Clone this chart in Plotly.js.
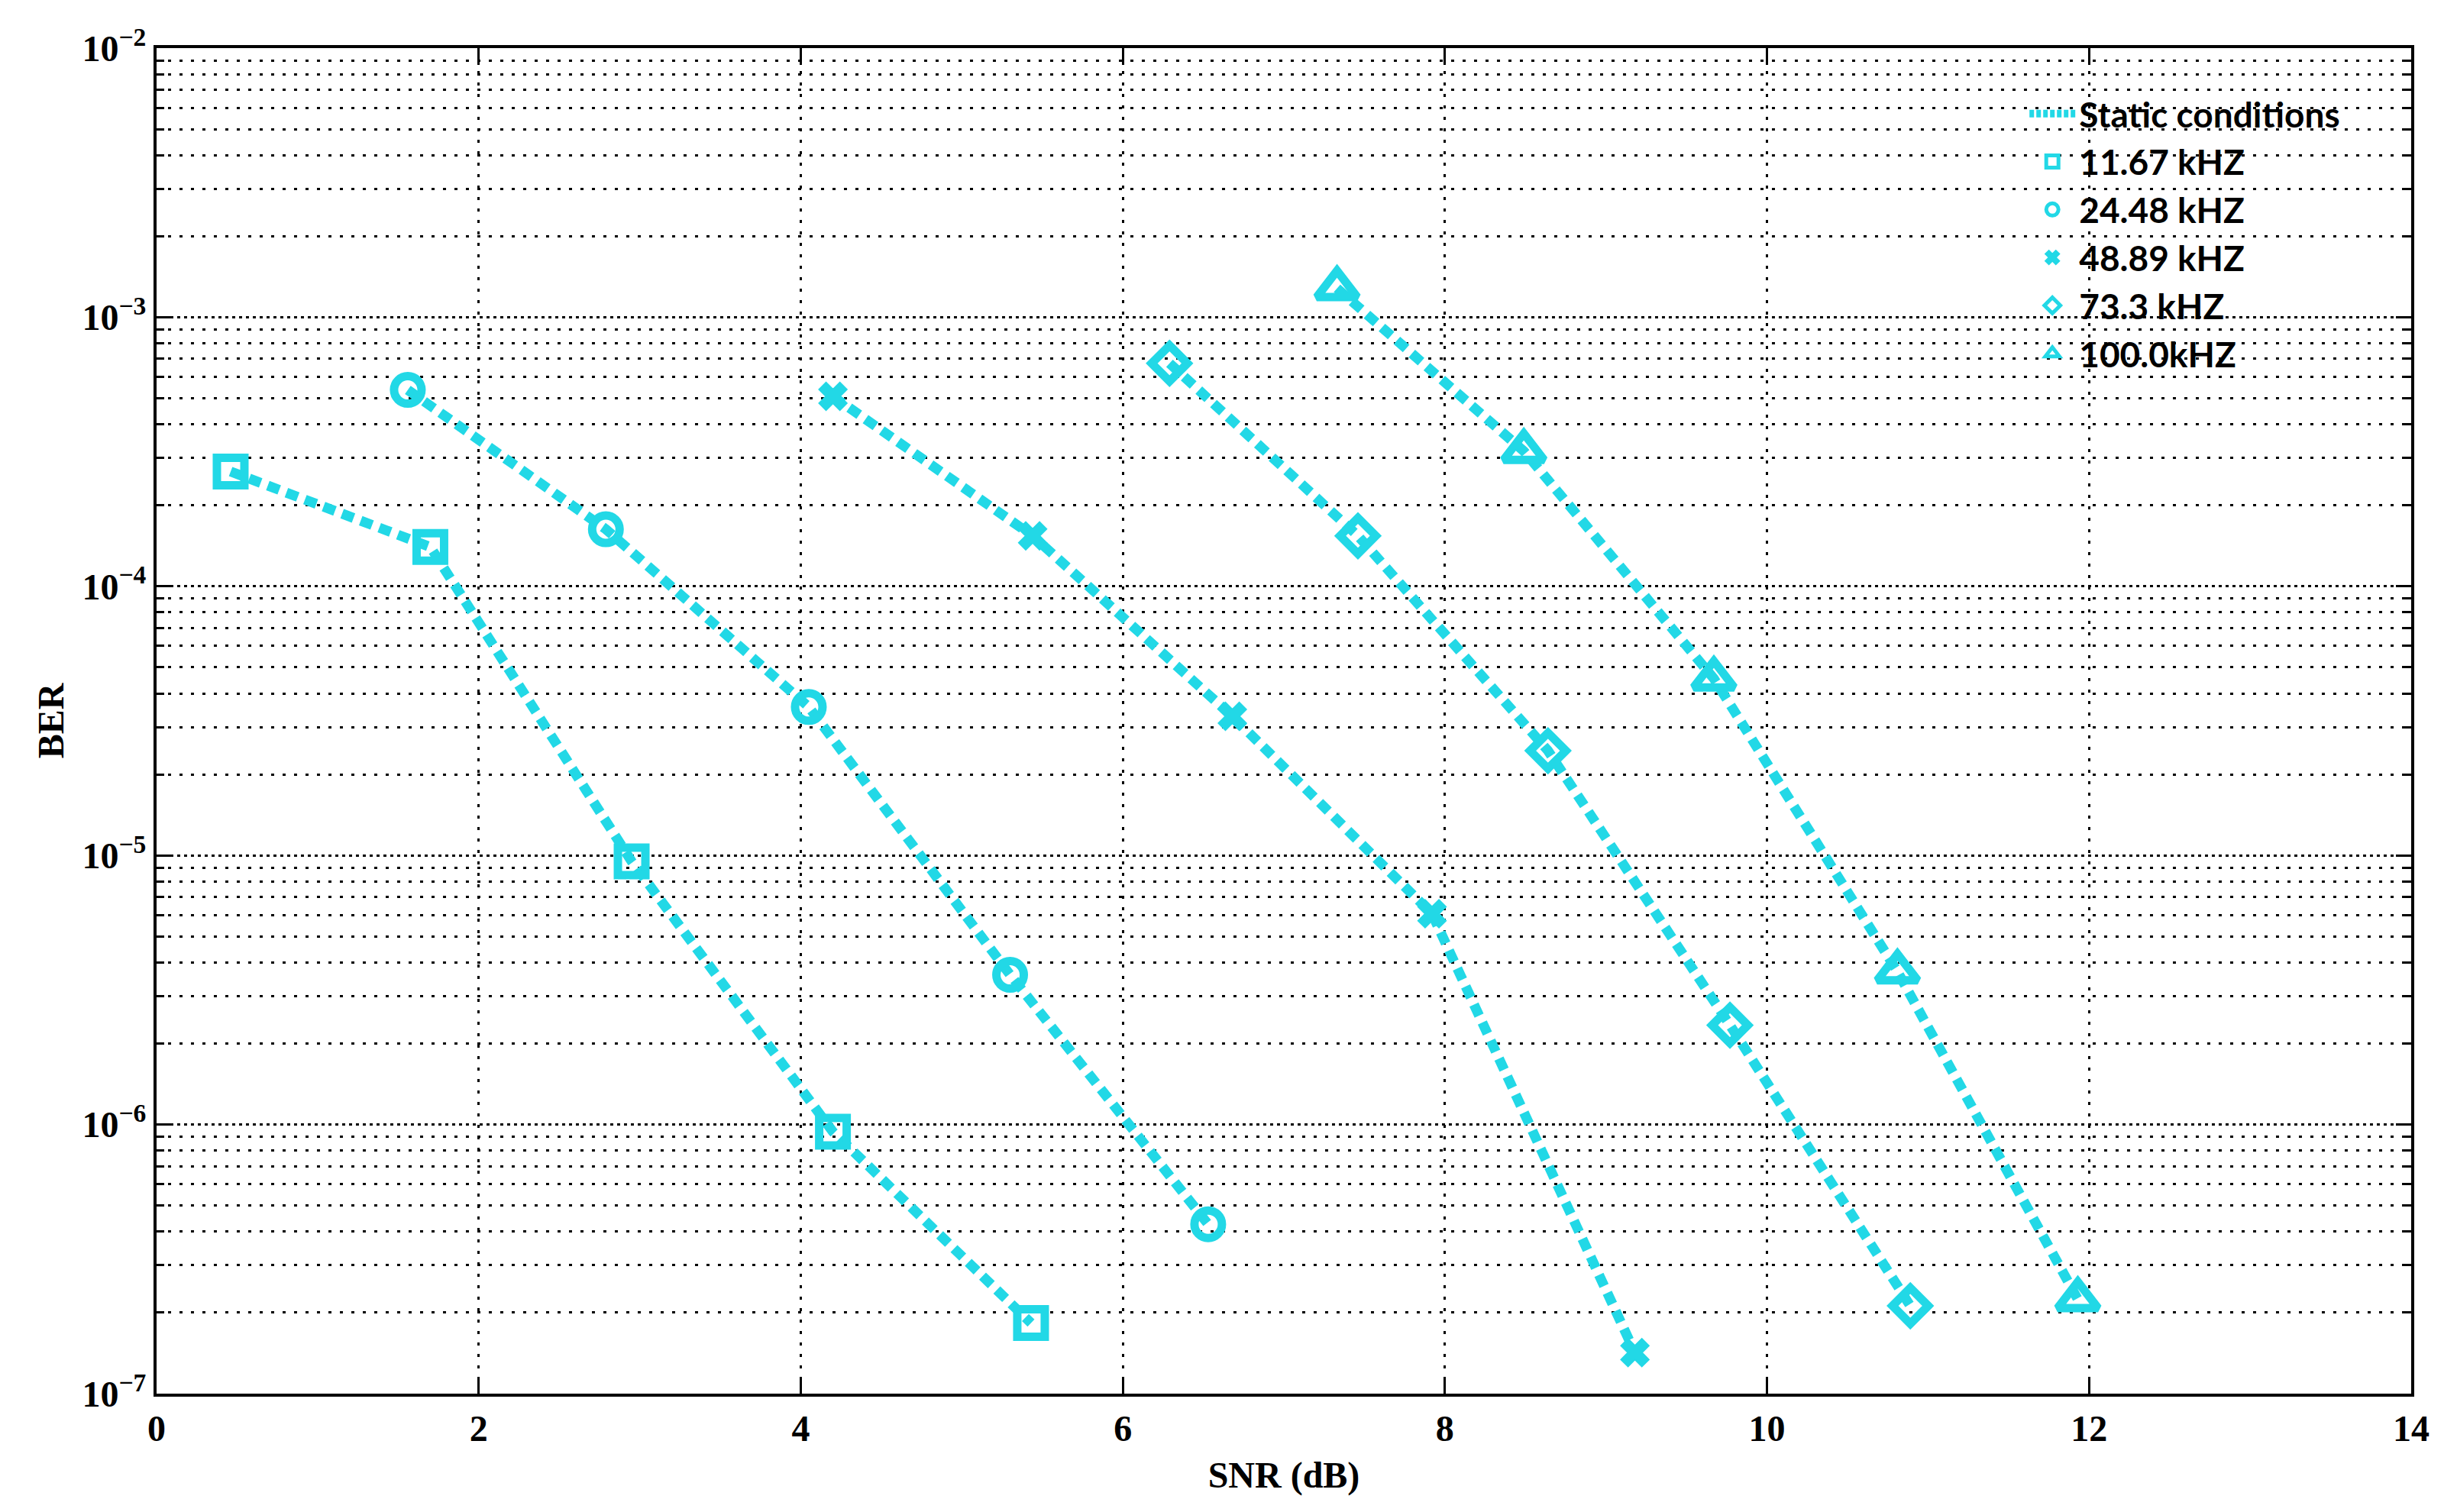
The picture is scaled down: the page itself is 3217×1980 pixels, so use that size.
<!DOCTYPE html>
<html>
<head>
<meta charset="utf-8">
<script src="https://cdn.plot.ly/plotly-3.0.1.min.js"></script>
<style>
  html, body { margin: 0; padding: 0; background: #fff; }
  #chart { width: 3217px; height: 1980px; }
</style>
</head>
<body>
<div id="chart"></div>
<script>
'use strict';

// SNR (dB) / BER per Doppler shift
const snr1167 = [0.46, 1.70, 2.95, 4.20, 5.43];
const ber1167 = [2.67e-4, 1.40e-4, 9.5e-6, 9.4e-7, 1.83e-7];

const snr2448 = [1.56, 2.79, 4.05, 5.30, 6.53];
const ber2448 = [5.37e-4, 1.63e-4, 3.56e-5, 3.6e-6, 4.26e-7];

const snr4889 = [4.20, 5.44, 6.68, 7.92, 9.18];
const ber4889 = [5.08e-4, 1.54e-4, 3.29e-5, 6.07e-6, 1.42e-7];

const snr733 = [6.29, 7.46, 8.64, 9.77, 10.89];
const ber733 = [6.74e-4, 1.54e-4, 2.45e-5, 2.34e-6, 2.12e-7];

const snr100 = [7.33, 8.49, 9.67, 10.81, 11.93];
const ber100 = [1.28e-3, 3.18e-4, 4.54e-5, 3.7e-6, 2.24e-7];

const seriesNames = ['11.67 kHZ', '24.48 kHZ', '48.89 kHZ', '73.3 kHZ', '100.0kHZ'];
const seriesSymbols = ['square-open', 'circle-open', 'x', 'diamond-open', 'triangle-up-open'];

const yTickVals = [1e-7, 1e-6, 1e-5, 1e-4, 1e-3, 1e-2];
const yTickText = ['10<sup>−7</sup>', '10<sup>−6</sup>', '10<sup>−5</sup>', '10<sup>−4</sup>', '10<sup>−3</sup>', '10<sup>−2</sup>'];
const xTickVals = [0, 2, 4, 6, 8, 10, 12, 14];

const CYAN = '#22d8e6';
const serif = { family: 'Liberation Serif, Times New Roman, serif', size: 48, color: '#000', weight: 'bold' };

// minor log ticks 2..9 inside each decade
const minorVals = [];
for (let e = -7; e < -2; e++) for (let m = 2; m <= 9; m++) minorVals.push(m * Math.pow(10, e));

const xs = [snr1167, snr2448, snr4889, snr733, snr100];
const ys = [ber1167, ber2448, ber4889, ber733, ber100];

const traces = [];
// dotted curves
xs.forEach((x, i) => traces.push({
    x, y: ys[i], type: 'scatter', mode: 'lines', showlegend: false, hoverinfo: 'skip',
    line: { color: CYAN, width: 13, dash: '16px,10px' }
}));
// legend entry for the line style
traces.push({
    x: [null], y: [null], type: 'scatter', mode: 'lines', name: 'Static conditions',
    line: { color: CYAN, width: 10, dash: '6px,3px' }
});
// markers
xs.forEach((x, i) => {
    const isX = seriesSymbols[i] === 'x';
    traces.push({
        x, y: ys[i], type: 'scatter', mode: 'markers', name: seriesNames[i],
        marker: {
            symbol: seriesSymbols[i], size: isX ? 32 : (i === 4 ? 46 : 36), color: CYAN,
            line: { color: CYAN, width: isX ? 2 : 11 }
        }
    });
});

const gridDash = '4px,11px';

const layout = {
    width: 3217, height: 1980,
    paper_bgcolor: '#fff', plot_bgcolor: '#fff',
    margin: { l: 205, r: 60, t: 63, b: 155 },
    showlegend: true,
    legend: {
        x: 0.829, y: 0.972, xanchor: 'left', yanchor: 'top',
        bgcolor: 'rgba(0,0,0,0)', borderwidth: 0,
        font: { family: 'Lato, Open Sans, sans-serif', size: 46, color: '#000', weight: 'bold' },
        itemwidth: 60, tracegroupgap: 0
    },
    xaxis: {
        range: [0, 14], tickmode: 'array', tickvals: xTickVals,
        ticks: 'inside', ticklen: 22, tickwidth: 3, tickcolor: '#000',
        showline: true, linecolor: '#000', linewidth: 4, mirror: 'ticks',
        showgrid: true, gridcolor: '#000', gridwidth: 3, griddash: gridDash,
        zeroline: false, tickfont: serif,
        title: { text: 'SNR (dB)', font: serif, standoff: 20 }
    },
    yaxis: {
        type: 'log', range: [-7, -2], tickmode: 'array', tickvals: yTickVals, ticktext: yTickText,
        ticks: 'inside', ticklen: 20, tickwidth: 3, tickcolor: '#000',
        showline: true, linecolor: '#000', linewidth: 4, mirror: 'ticks',
        showgrid: true, gridcolor: '#000', gridwidth: 3, griddash: '4px,5px',
        zeroline: false, tickfont: serif,
        title: { text: 'BER', font: serif, standoff: 10 },
        minor: {
            tickmode: 'array', tickvals: minorVals, ticks: 'inside', ticklen: 10, tickwidth: 3,
            tickcolor: '#000', showgrid: true, gridcolor: '#000', gridwidth: 3, griddash: gridDash
        }
    }
};

Plotly.newPlot('chart', traces, layout, { staticPlot: true });
</script>
</body>
</html>
